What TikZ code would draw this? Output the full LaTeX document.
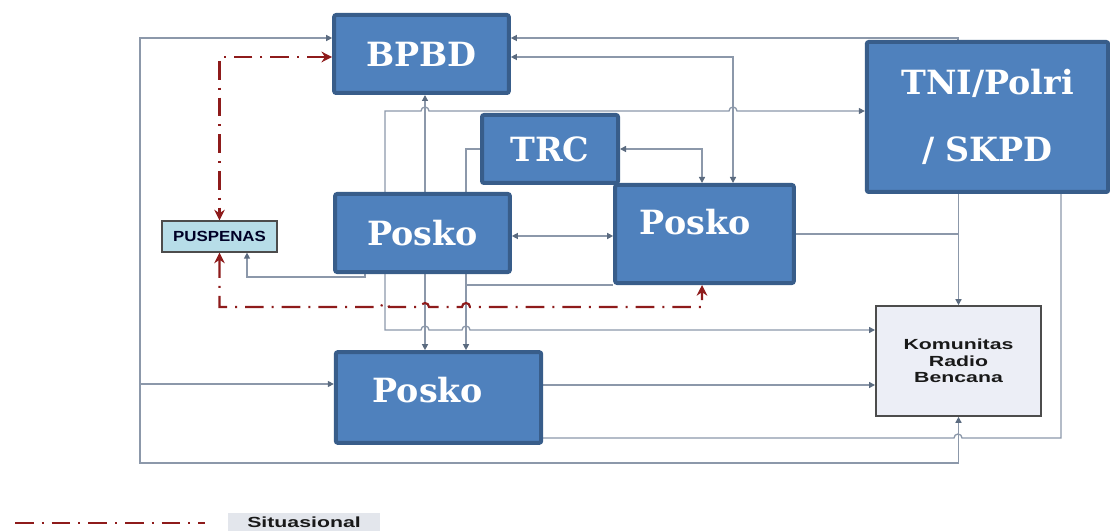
\documentclass[tikz,border=0pt]{standalone}
\usepackage{fontspec}
\usetikzlibrary{arrows.meta,backgrounds}

\newfontfamily\slabfont{DejaVu Serif}
\newfontfamily\widesans[FakeStretch=1.45]{Liberation Sans}
\newfontfamily\puspfont[FakeStretch=1.15]{Liberation Sans}

\definecolor{boxblue}{HTML}{4F81BD}
\definecolor{boxedge}{HTML}{385D8A}
\definecolor{wire}{HTML}{8C98AA}
\definecolor{wiretip}{HTML}{5B6B80}
\definecolor{situred}{HTML}{8E1B1B}
\definecolor{puspfill}{HTML}{B7DDE8}
\definecolor{komfill}{HTML}{ECEEF6}
\definecolor{legfill}{HTML}{E3E6EC}

\begin{document}
\begin{tikzpicture}[x=0.75pt, y=-0.75pt,
  unit/.style={draw=boxedge, fill=boxblue, line width=3pt, rounded corners=1.5pt,
    text=white, inner sep=0pt, font=\slabfont\bfseries\fontsize{25}{30}\selectfont},
  puspbox/.style={draw=black!70, fill=puspfill, line width=1.2pt, inner sep=0pt,
    minimum width=86pt, minimum height=23pt, text=black!85!blue,
    font=\puspfont\bfseries\fontsize{11}{13}\selectfont},
  kombox/.style={draw=black!70, fill=komfill, line width=1.2pt, inner sep=0pt,
    minimum width=124pt, minimum height=82.5pt, align=center, text=black!90,
    font=\widesans\bfseries\fontsize{11}{12.4}\selectfont},
  legbox/.style={fill=legfill, inner sep=0pt, minimum width=114pt, minimum height=13.5pt,
    text=black!90, font=\widesans\bfseries\fontsize{11}{12}\selectfont},
  wire/.style={draw=wire, line width=1pt,
    >={Triangle[length=4.5pt,width=4.5pt,color=wiretip]}},
  situ/.style={draw=situred, line width=1.6pt,
    dash pattern=on 14pt off 6pt on 1.5pt off 6pt,
    >={Stealth[length=8pt,width=8pt]}}]

  \useasboundingbox (0,0) rectangle (1110,531);

  % Units
  \node[unit, minimum width=131pt, minimum height=58.5pt] (bpbd) at (421.5,54) {BPBD};
  \node[unit, minimum width=102pt, minimum height=51pt] (trc) at (550,149) {TRC};
  \node[unit, minimum width=131pt, minimum height=58.5pt] (p1) at (422.5,233) {Posko};
  \node[unit, minimum width=134pt, minimum height=73.5pt, text depth=18pt] (p2)
    at (704.5,234) {Posko\hspace*{14pt}};
  \node[unit, minimum width=154pt, minimum height=68pt, text depth=11pt] (p3)
    at (438.5,397.5) {Posko\hspace*{16pt}};
  \node[unit, minimum width=181pt, minimum height=112.5pt, align=center,
    font=\slabfont\bfseries\fontsize{25}{50}\selectfont] (tni)
    at (987.5,117) {TNI/Polri\\/ SKPD};

  \node[puspbox] (pusp) at (219.5,236.5) {PUSPENAS};
  \node[kombox] (kom) at (958.5,361) {Komunitas\\Radio\\Bencana};

  % Legend
  \node[legbox] (leg) at (304,522) {Situasional};
  \coordinate (lgA) at (15,523);
  \coordinate (lgB) at (205,523);
  \draw[situ] (lgA) -- (lgB);

  \begin{pgfonlayer}{background}
    % Outer loop
    \draw[wire,<->] (bpbd.west |- 0,38) -| (140,463) -| (kom.south);
    \draw[wire,->] (140,384) -- (p3.west |- 0,384);
    \draw[wire,->] (p3.east |- 0,385) -- (kom.west |- 0,385);
    \draw[wire] (p3.east |- 0,438) -- (954,438) arc (180:0:3pt) -- (1061,438)
      -- (tni.south -| 1061,0);

    % TNI/Polri and Komunitas
    \draw[wire,->] (tni.north -| 958,0) |- (bpbd.east |- 0,38);
    \draw[wire,->] (tni.south -| kom.north) -- (kom.north);
    \draw[wire] (p2.east) -- (p2.east -| kom.north);

    % BPBD, TRC and Posko
    \draw[wire,<->] (bpbd.east |- 0,57) -| (p2.north -| 733,0);
    \draw[wire,<->] (trc.east) -| (p2.north -| 702,0);
    \draw[wire,->] (trc.west) -| (p3.north -| 466,0);
    \draw[wire] (p2.south west) -- (p2.south west -| 466,0);
    \draw[wire,<->] (bpbd.south -| 425,0) -- (p3.north -| 425,0);
    \draw[wire,<->] (p1.east |- 0,236) -- (p2.west |- 0,236);
    \draw[wire,->] (p1.north -| 385,0) -- (385,111) -- (421,111) arc (180:0:3pt)
      -- (729,111) arc (180:0:3pt) -- (tni.west |- 0,111);
    \draw[wire,->] (p1.south -| 385,0) -- (385,330) -- (421,330) arc (180:0:3pt)
      -- (462,330) arc (180:0:3pt) -- (kom.west |- 0,330);
    \draw[wire,->] (p1.south -| 365,0) -- ++(0,3) -| (pusp.south -| 247,0);

    % Situasional
    \draw[situ,<->] (bpbd.west |- 0,57) -| (pusp.north);
    \draw[situ,<->] (pusp.south) -- (pusp.south |- 0,307) -- (381,307) arc (180:0:3pt)
      -- (421,307) arc (180:0:3pt) -- (462,307) arc (180:0:3pt) -- (702,307)
      -- (p2.south -| 702,0);
  \end{pgfonlayer}
\end{tikzpicture}
\end{document}
